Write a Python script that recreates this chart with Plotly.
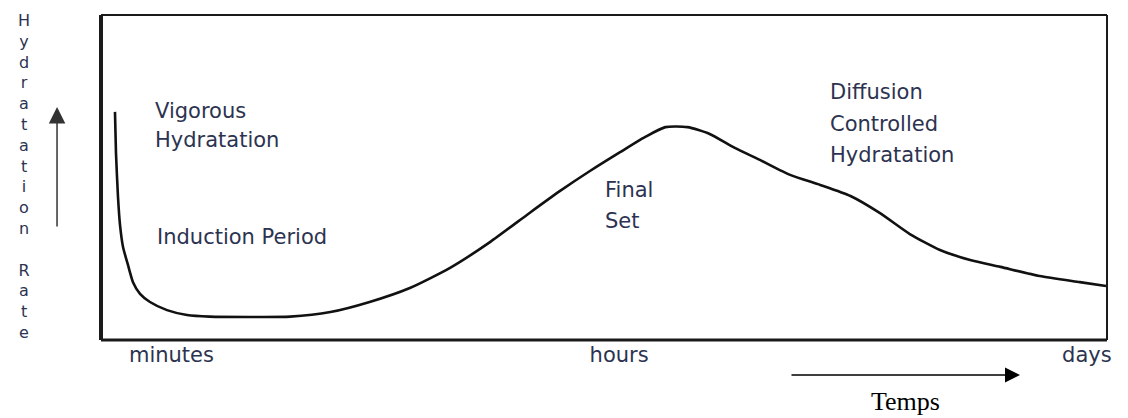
import plotly.graph_objects as go

# ── Data (arbitrary units 0-100 on both axes) ────────────────────────────────
TIME = [1.39, 1.49, 1.69, 1.89, 2.19, 2.68, 3.18, 3.88, 4.87, 6.56, 8.55,
        10.8, 14.8, 18.8, 22.8, 26.7, 30.7, 34.7, 38.7, 42.6, 45.6, 48.6,
        51.6, 54.1, 56.1, 58.3, 60.5, 63.0, 65.5, 68.5, 71.5, 74.5, 77.4,
        80.4, 83.4, 86.4, 89.4, 93.3, 97.3, 99.9]
RATE = [70.2, 57.5, 44.0, 35.4, 28.6, 23.1, 17.8, 14.2, 11.7, 9.2, 7.7,
        7.2, 7.1, 7.2, 8.6, 11.7, 16.0, 22.2, 30.2, 39.1, 45.8, 52.0,
        57.8, 62.5, 65.5, 65.5, 63.4, 59.1, 55.4, 50.8, 47.7, 44.3, 39.1,
        32.6, 27.7, 24.6, 22.5, 19.7, 17.8, 16.6]

TICK_VALS = [7.0, 51.5, 98.0]
TICK_TEXT = ["minutes", "hours", "days"]

# in-plot labels: (text, x left edge, y centre)
LABELS = [
    ("Vigorous", 5.17, 70.5),
    ("Hydratation", 5.17, 61.5),
    ("Induction Period", 5.37, 31.7),
    ("Final", 49.9, 46.2),
    ("Set", 49.9, 36.6),
    ("Diffusion", 72.3, 76.3),
    ("Controlled", 72.3, 66.5),
    ("Hydratation", 72.3, 56.9),
]

Y_TITLE = "Hydratation Rate"
X_TITLE = "Temps"

# ── Style ────────────────────────────────────────────────────────────────────
TEXT = "#2c3350"
LINE = "#111111"
SANS = "DejaVu Sans"
FS = 21

fig = go.Figure(go.Scatter(
    x=TIME, y=RATE, mode="lines",
    line=dict(color=LINE, width=2.6, shape="spline", smoothing=0.6),
    hoverinfo="skip", showlegend=False,
))

for txt, x, y in LABELS:
    fig.add_annotation(x=x, y=y, text=txt, showarrow=False,
                       xanchor="left", yanchor="middle",
                       font=dict(family=SANS, size=FS, color=TEXT))

# stacked vertical y title
stacked = "<br>".join(ch if ch != " " else "" for ch in Y_TITLE)
fig.add_annotation(x=-0.0766, y=0.504, xref="paper", yref="paper",
                   text=stacked, showarrow=False, align="center",
                   xanchor="center", yanchor="middle",
                   font=dict(family=SANS, size=16, color=TEXT))

# vertical arrow beside the y title
fig.add_annotation(x=-0.0437, y=0.717, xref="paper", yref="paper",
                   ax=0, ay=121, text="", showarrow=True,
                   arrowhead=2, arrowsize=2.2, arrowwidth=1.5,
                   arrowcolor="#333333")

# horizontal time arrow and caption
fig.add_annotation(x=0.9135, y=-0.1077, xref="paper", yref="paper",
                   ax=-230, ay=0, text="", showarrow=True,
                   arrowhead=2, arrowsize=2.0, arrowwidth=1.5,
                   arrowcolor="#000000")
fig.add_annotation(x=0.800, y=-0.1877, xref="paper", yref="paper",
                   text=X_TITLE, showarrow=False,
                   xanchor="center", yanchor="middle",
                   font=dict(family="Liberation Serif", size=26, color="#000000"))

# plot frame, uneven line weights like the scan
frame = [
    dict(x0=0, x1=0, y0=0, y1=1, width=4),
    dict(x0=0, x1=1, y0=0, y1=0, width=3),
    dict(x0=0, x1=1, y0=1, y1=1, width=2),
    dict(x0=1, x1=1, y0=0, y1=1, width=2),
]
for f in frame:
    fig.add_shape(type="line", xref="paper", yref="paper",
                  x0=f["x0"], x1=f["x1"], y0=f["y0"], y1=f["y1"],
                  line=dict(color="#1a1a1a", width=f["width"]))

# page body adds an 8px margin, so the figure is 8px smaller each way
fig.update_layout(
    width=1120, height=410, autosize=False,
    paper_bgcolor="white", plot_bgcolor="white",
    margin=dict(l=93, r=21, t=7, b=78),
    xaxis=dict(range=[0, 100], showgrid=False, zeroline=False,
               showline=False, ticks="", tickvals=TICK_VALS,
               ticktext=TICK_TEXT, fixedrange=True,
               tickfont=dict(family=SANS, size=FS, color=TEXT)),
    yaxis=dict(range=[0, 100], showgrid=False, zeroline=False,
               showline=False, showticklabels=False, fixedrange=True),
)

fig.write_html("out.html")
